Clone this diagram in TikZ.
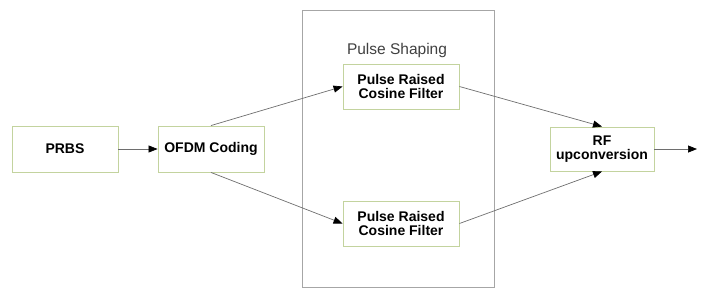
\documentclass[tikz,border=0pt]{standalone}
\usepackage{fontspec}
\setmainfont{Liberation Sans}
\usetikzlibrary{arrows.meta}
\definecolor{boxgreen}{HTML}{C3D39E}
\definecolor{linegray}{HTML}{6E6E6E}
\tikzset{
  blk/.style={draw=boxgreen, line width=0.9pt, fill=white, inner sep=0pt, align=center,
    font=\fontsize{14}{14.5}\selectfont\bfseries},
  conn/.style={draw=linegray, line width=0.7pt, -{Triangle[length=9pt,width=7pt,color=black]}},
}
\begin{document}
\begin{tikzpicture}[x=1pt,y=-1pt]
\useasboundingbox (0,0) rectangle (706,303);
\node[draw=gray!70, line width=0.8pt, minimum width=192pt, minimum height=277pt, inner sep=0pt] (ps) at (398,148.5) {};
\node[font=\fontsize{15.5}{17}\selectfont, text=black!75] (pslabel) at (397,50) {Pulse Shaping};
\node[blk, minimum width=106pt, minimum height=46pt] (prbs) at (65,149) {PRBS};
\node[blk, minimum width=106pt, minimum height=46pt] (ofdm) at (211,149) {OFDM Coding};
\node[blk, minimum width=116pt, minimum height=45pt] (f1) at (401,86.5) {Pulse Raised\\Cosine Filter};
\node[blk, minimum width=116pt, minimum height=45pt] (f2) at (401,223.5) {Pulse Raised\\Cosine Filter};
\node[blk, minimum width=104pt, minimum height=44pt] (rf) at (602,149) {RF\\upconversion};
\coordinate (out) at (697,149);
\draw[conn] (prbs.east) -- (ofdm.west);
\draw[conn] (ofdm.north) -- (f1.west);
\draw[conn] (ofdm.south) -- (f2.west);
\draw[conn] (f1.east) -- (rf.north);
\draw[conn] (f2.east) -- (rf.south);
\draw[conn] (rf.east) -- (out);
\end{tikzpicture}
\end{document}
